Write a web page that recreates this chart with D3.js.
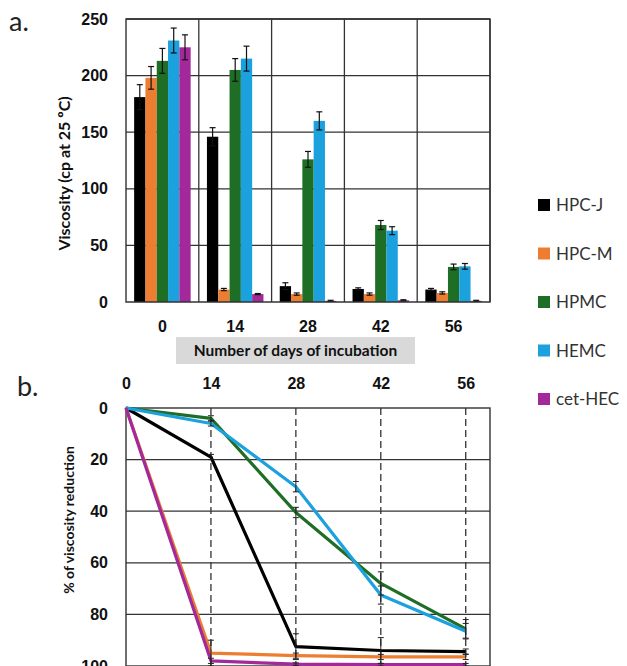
<!DOCTYPE html>
<html>
<head>
<meta charset="utf-8">
<script src="https://cdn.jsdelivr.net/npm/d3@7"></script>
<style>
  body { margin: 0; background: #fff; }
  svg { display: block; font-family: Lato, "Open Sans", sans-serif; }
  .tick-label { font-weight: bold; font-size: 16px; fill: #111; }
  .title { font-weight: bold; font-size: 14px; fill: #111; }
  .legend text { font-size: 17px; fill: #333; }
  .panel { font-size: 27px; fill: #222; }
</style>
</head>
<body>
<div class="chart"></div>
<script>
// days of incubation
const days = [0, 14, 28, 42, 56]
const polymers = ["HPC-J", "HPC-M", "HPMC", "HEMC", "cet-HEC"]
const colors = ["#000000", "#ED7D31", "#1F6E25", "#1BA1DD", "#A3299B"]

// a. viscosity (cp at 25 C), one row per polymer, one value per day
const viscosity = [
  [181, 146, 14, 11.5, 11],
  [198, 11, 7, 7, 8],
  [213, 205, 126, 68, 31],
  [231, 215, 160, 63, 31.5],
  [225, 7, 1, 1.5, 1]
]
const viscosityErr = [
  [11, 8, 3, 1, 1],
  [10, 1, 1, 1, 1],
  [11, 10, 7, 4, 2.5],
  [11, 11, 8, 3.5, 2.5],
  [11, 0.5, 0.5, 0.5, 0.5]
]
const viscosityTicks = [0, 50, 100, 150, 200, 250]

// b. % of viscosity reduction
const reduction = [
  [0, 19, 92.5, 94, 94.4],
  [0, 95, 96, 96.5, 96.5],
  [0, 4, 40.5, 68, 85.6],
  [0, 6, 30.5, 72.5, 86.5],
  [0, 98, 99.3, 99.5, 99.5]
]
const reductionErr = [
  [0, 1, 5, 5, 1],
  [0, 5, 1, 1, 1],
  [0, 1, 2, 4.5, 3.6],
  [0, 1, 2, 3.5, 3],
  [0, 1, 0.5, 0.5, 0.5]
]
const reductionTicks = [0, 20, 40, 60, 80, 100]

;(function() {
  const width = 627
  const height = 666
  const plot = { left: 126, right: 490 }

  const $svg = d3
    .select(".chart")
    .append("svg")
    .attr("width", width)
    .attr("height", height)

  // ---------- a. bar chart ----------
  const x0 = d3.scaleBand().domain(days).range([plot.left, plot.right])
  const x1 = d3
    .scaleBand()
    .domain(polymers)
    .range([0, x0.bandwidth()])
    .paddingOuter(0.72)
  const yA = d3.scaleLinear().domain([0, 250]).range([302, 19])

  const $a = $svg.append("g").attr("class", "chart-a")

  $a.append("text").attr("class", "panel").attr("x", 9).attr("y", 31).text("a.")

  // grid
  $a.append("g")
    .selectAll("line")
    .data(viscosityTicks.slice(1))
    .join("line")
    .attr("x1", plot.left)
    .attr("x2", plot.right)
    .attr("y1", d => yA(d))
    .attr("y2", d => yA(d))
    .attr("stroke", "#333")
    .attr("stroke-width", 1.3)

  $a.append("g")
    .selectAll("line")
    .data(days)
    .join("line")
    .attr("x1", d => x0(d) + x0.bandwidth())
    .attr("x2", d => x0(d) + x0.bandwidth())
    .attr("y1", yA(250))
    .attr("y2", yA(0))
    .attr("stroke", "#333")
    .attr("stroke-width", 1.3)

  // bars
  const cells = []
  polymers.forEach((p, i) => {
    days.forEach((d, j) => {
      cells.push({ p, i, d, v: viscosity[i][j], e: viscosityErr[i][j] })
    })
  })

  $a.append("g")
    .selectAll("rect")
    .data(cells)
    .join("rect")
    .attr("x", c => x0(c.d) + x1(c.p))
    .attr("width", x1.bandwidth())
    .attr("y", c => yA(c.v))
    .attr("height", c => yA(0) - yA(c.v))
    .attr("fill", c => colors[c.i])

  const $errA = $a
    .append("g")
    .attr("stroke", "#111")
    .attr("stroke-width", 1.2)
    .selectAll("g")
    .data(cells)
    .join("g")
    .attr("transform", c => `translate(${x0(c.d) + x1(c.p) + x1.bandwidth() / 2}, 0)`)
  $errA.append("line")
    .attr("y1", c => yA(c.v + c.e))
    .attr("y2", c => yA(Math.max(0, c.v - c.e)))
  $errA.selectAll(".cap")
    .data(c => [c.v + c.e, Math.max(0, c.v - c.e)])
    .join("line")
    .attr("class", "cap")
    .attr("x1", -3)
    .attr("x2", 3)
    .attr("y1", v => yA(v))
    .attr("y2", v => yA(v))

  // frame
  $a.append("path")
    .attr("d", `M${plot.left},${yA(0)}V${yA(250)}H${plot.right}V${yA(0)}Z`)
    .attr("fill", "none")
    .attr("stroke", "#333")
    .attr("stroke-width", 1.4)

  // axes
  const $yAxisA = $a
    .append("g")
    .attr("transform", `translate(${plot.left}, 0)`)
    .call(d3.axisLeft(yA).tickValues(viscosityTicks).tickSize(0).tickPadding(18))
  $yAxisA.select(".domain").remove()
  $yAxisA.selectAll("text").attr("class", "tick-label").attr("font-family", null).attr("font-size", null)

  const $xAxisA = $a
    .append("g")
    .attr("transform", `translate(0, ${yA(0)})`)
    .call(d3.axisBottom(x0).tickSize(0).tickPadding(19))
  $xAxisA.select(".domain").remove()
  $xAxisA.selectAll("text").attr("class", "tick-label").attr("font-family", null).attr("font-size", null)

  $a.append("text")
    .attr("class", "title")
    .style("font-size", "16px")
    .attr("transform", `translate(70, ${(yA(0) + yA(250)) / 2 + 13}) rotate(-90)`)
    .attr("text-anchor", "middle")
    .text("Viscosity (cp at 25 ºC)")

  $a.append("rect")
    .attr("x", 176)
    .attr("y", 337)
    .attr("width", 239)
    .attr("height", 27)
    .attr("fill", "#d9d9d9")
  $a.append("text")
    .attr("class", "title")
    .style("font-size", "15.5px")
    .attr("x", 295.5)
    .attr("y", 356)
    .attr("text-anchor", "middle")
    .text("Number of days of incubation")

  // legend
  const $legend = $svg
    .append("g")
    .attr("class", "legend")
    .selectAll("g")
    .data(polymers)
    .join("g")
    .attr("transform", (d, i) => `translate(538, ${205 + i * 48.5})`)
  $legend.append("rect")
    .attr("x", 0)
    .attr("y", -6)
    .attr("width", 12)
    .attr("height", 12)
    .attr("fill", (d, i) => colors[i])
  $legend.append("text")
    .attr("x", 18)
    .attr("dy", "0.36em")
    .text(d => d)

  // ---------- b. line chart ----------
  const xB = d3.scaleLinear().domain([0, 60]).range([plot.left, plot.right])
  const yB = d3.scaleLinear().domain([0, 100]).range([408, 666])

  const $b = $svg.append("g").attr("class", "chart-b")
  $b.append("text").attr("class", "panel").attr("x", 17).attr("y", 396).text("b.")

  $b.append("g")
    .selectAll("line")
    .data(reductionTicks.slice(1, -1))
    .join("line")
    .attr("x1", plot.left)
    .attr("x2", plot.right)
    .attr("y1", d => yB(d))
    .attr("y2", d => yB(d))
    .attr("stroke", "#333")
    .attr("stroke-width", 1.3)

  $b.append("g")
    .selectAll("line")
    .data(days.slice(1))
    .join("line")
    .attr("x1", d => xB(d))
    .attr("x2", d => xB(d))
    .attr("y1", yB(0))
    .attr("y2", yB(100))
    .attr("stroke", "#333")
    .attr("stroke-width", 1.3)
    .attr("stroke-dasharray", "7 4")

  $b.append("rect")
    .attr("x", plot.left)
    .attr("y", yB(0))
    .attr("width", plot.right - plot.left)
    .attr("height", yB(100) - yB(0))
    .attr("fill", "none")
    .attr("stroke", "#333")
    .attr("stroke-width", 1.4)

  const series = polymers.map((p, i) => ({
    key: p,
    color: colors[i],
    values: days.map((d, j) => ({ day: d, v: reduction[i][j], e: reductionErr[i][j] }))
  }))

  const lineGenerator = d3
    .line()
    .x(d => xB(d.day))
    .y(d => yB(d.v))

  $b.append("g")
    .selectAll("path")
    .data(series)
    .join("path")
    .attr("d", d => lineGenerator(d.values))
    .attr("fill", "none")
    .attr("stroke", d => d.color)
    .attr("stroke-width", 3.2)
    .attr("stroke-linejoin", "round")

  const errB = series.flatMap(s => s.values.filter(v => v.e > 0))
  const $errB = $b
    .append("g")
    .attr("stroke", "#222")
    .attr("stroke-width", 1)
    .selectAll("g")
    .data(errB)
    .join("g")
    .attr("transform", d => `translate(${xB(d.day)}, 0)`)
  $errB.append("line")
    .attr("y1", d => yB(d.v - d.e))
    .attr("y2", d => yB(Math.min(100, d.v + d.e)))
  $errB.selectAll(".cap")
    .data(d => [d.v - d.e, Math.min(100, d.v + d.e)])
    .join("line")
    .attr("class", "cap")
    .attr("x1", -3)
    .attr("x2", 3)
    .attr("y1", v => yB(v))
    .attr("y2", v => yB(v))

  const $yAxisB = $b
    .append("g")
    .attr("transform", `translate(${plot.left}, 0)`)
    .call(d3.axisLeft(yB).tickValues(reductionTicks).tickSize(0).tickPadding(18))
  $yAxisB.select(".domain").remove()
  $yAxisB.selectAll("text").attr("class", "tick-label").attr("font-family", null).attr("font-size", null)

  const $xAxisB = $b
    .append("g")
    .attr("transform", `translate(0, ${yB(0)})`)
    .call(d3.axisTop(xB).tickValues(days).tickSize(0).tickPadding(19))
  $xAxisB.select(".domain").remove()
  $xAxisB.selectAll("text").attr("class", "tick-label").attr("font-family", null).attr("font-size", null)

  $b.append("text")
    .attr("class", "title")
    .attr("transform", `translate(74, 520) rotate(-90)`)
    .attr("text-anchor", "middle")
    .text("% of viscosity reduction")
})()
</script>
</body>
</html>
